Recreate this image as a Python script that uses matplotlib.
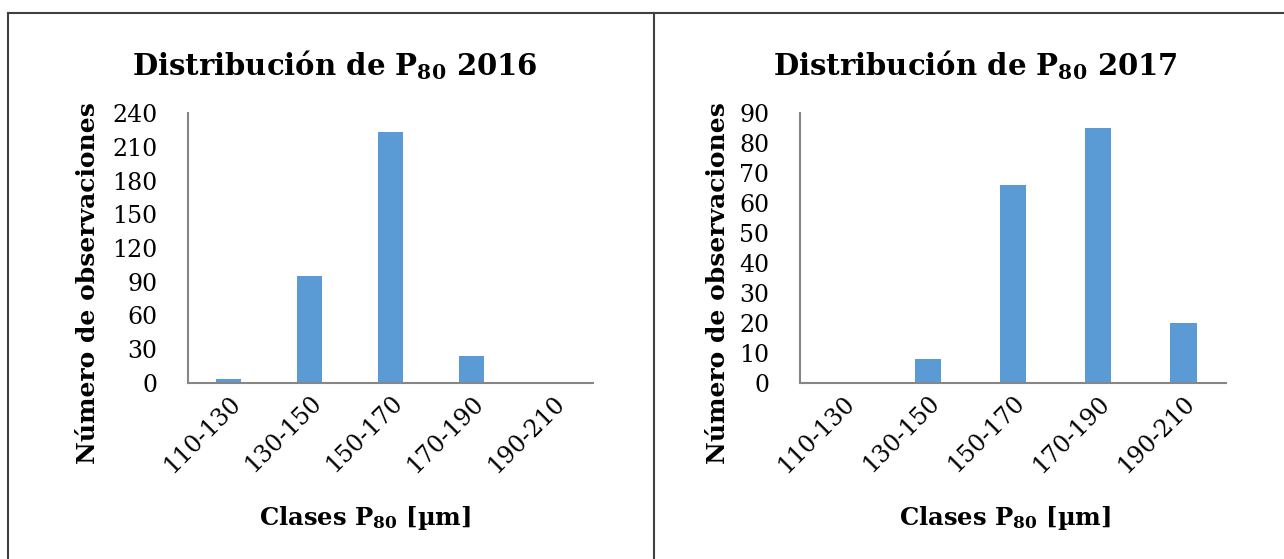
import matplotlib.pyplot as plt
from matplotlib.lines import Line2D

plt.rcParams['font.family'] = 'DejaVu Serif'
plt.rcParams['mathtext.fontset'] = 'custom'
plt.rcParams['mathtext.rm'] = 'DejaVu Serif'
plt.rcParams['mathtext.bf'] = 'DejaVu Serif:bold'
plt.rcParams['mathtext.default'] = 'bf'

classes = ['110-130', '130-150', '150-170', '170-190', '190-210']
counts_2016 = [4, 95, 223, 24, 0]
counts_2017 = [0, 8, 66, 85, 20]
years = ['2016', '2017']

W, H = 1284, 559
fig = plt.figure(figsize=(W / 100, H / 100), dpi=100)

bar_color = '#5B9BD5'
axis_color = '#868686'

panels = [
    # axes box in pixels (left, right, top, bottom), y max, y step, title x, ylabel x
    dict(box=(188, 593, 113, 383), ymax=240, step=30, data=counts_2016, cx=335, ylx=88),
    dict(box=(800, 1226, 113, 383), ymax=90, step=10, data=counts_2017, cx=975, ylx=718),
]

for year, p in zip(years, panels):
    l, r, t, b = p['box']
    ax = fig.add_axes([l / W, 1 - b / H, (r - l) / W, (b - t) / H])
    ax.bar(classes, p['data'], width=0.31, color=bar_color)
    ax.set_ylim(0, p['ymax'])
    ax.set_xlim(-0.5, len(classes) - 0.5)
    ax.set_yticks(range(0, p['ymax'] + 1, p['step']))
    for side in ['top', 'right']:
        ax.spines[side].set_visible(False)
    for side in ['left', 'bottom']:
        ax.spines[side].set_color(axis_color)
        ax.spines[side].set_linewidth(1.5)
    ax.tick_params(axis='both', length=0, labelsize=17, pad=6)
    ax.tick_params(axis='y', pad=22)
    plt.setp(ax.get_xticklabels(), rotation=45, ha='right', rotation_mode='anchor')

    fig.text(p['cx'] / W, 1 - 65 / H, 'Distribución de P$_{80}$ ' + year,
             ha='center', va='center', fontsize=21, fontweight='bold')
    fig.text(p['cx'] / W + 0.023, 1 - 518 / H, 'Clases P$_{80}$ [µm]',
             ha='center', va='center', fontsize=17.5, fontweight='bold')
    fig.text(p['ylx'] / W, 1 - 283 / H, 'Número de observaciones',
             ha='center', va='center', rotation=90, fontsize=18, fontweight='bold')

# frame around the two panels
frame = '#404040'
fig.add_artist(Line2D([8 / W, 1], [1 - 13 / H, 1 - 13 / H], color=frame, lw=1.5))
fig.add_artist(Line2D([8 / W, 8 / W], [0, 1 - 13 / H], color=frame, lw=1.5))
fig.add_artist(Line2D([654 / W, 654 / W], [0, 1 - 13 / H], color=frame, lw=1.5))

fig.savefig('out.png', dpi=100)
